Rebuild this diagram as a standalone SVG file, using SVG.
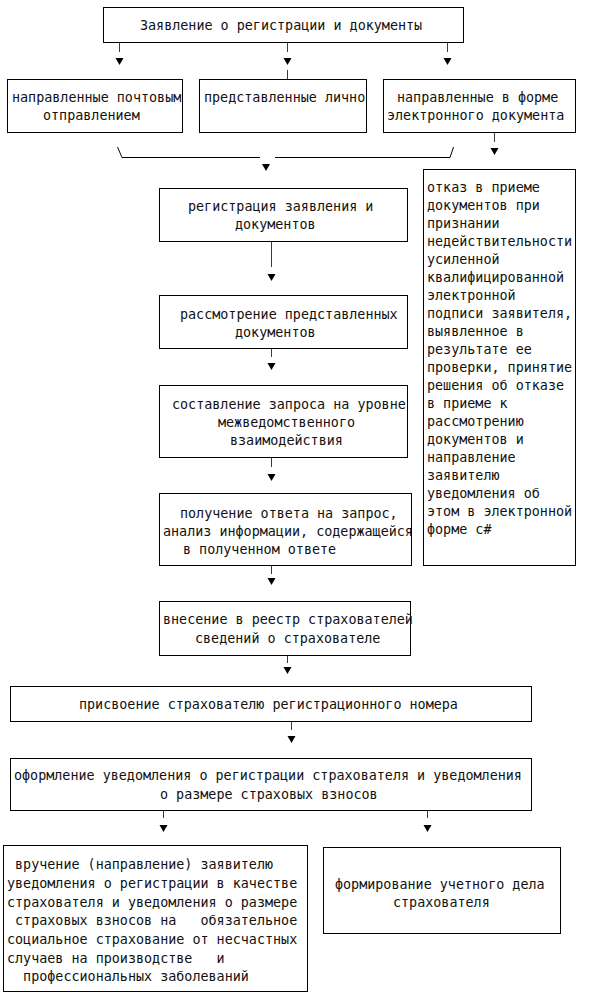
<svg xmlns="http://www.w3.org/2000/svg" width="592" height="997" viewBox="0 0 592 997">
<style>
.box{fill:#fff;stroke:#000;stroke-width:1}
text{font-family:"DejaVu Sans Mono","Liberation Mono",monospace;font-size:13.4px;fill:#111;white-space:pre}
.stem{stroke:#3a3a3a;stroke-width:1;fill:none}
.ln{stroke:#000;stroke-width:1;fill:none}
</style>
<defs>
<path id="tri" d="M-4,0 L4,0 L0,7 Z" fill="#000"/>
</defs>
<rect x="0" y="0" width="592" height="997" fill="#fff"/>
<g id="connectors">
<path class="stem" d="M119.5,43 V52 M287.5,43 V52 M287.5,70 V79 M447.5,43 V52"/>
<use href="#tri" x="119.5" y="58"/>
<use href="#tri" x="287.5" y="58"/>
<use href="#tri" x="447.5" y="58"/>
<path class="ln" d="M117.5,147 L122,157.5 H260 M275,157.5 H450 L453.5,147"/>
<use href="#tri" x="266" y="164"/>
<path class="stem" d="M494.5,133 V142"/>
<use href="#tri" x="494.5" y="148"/>
<path class="stem" d="M271.5,241 V267"/>
<use href="#tri" x="271.5" y="274"/>
<path class="stem" d="M271.5,348 V357"/>
<use href="#tri" x="271.5" y="363"/>
<path class="stem" d="M271.5,458 V467"/>
<use href="#tri" x="271.5" y="474"/>
<path class="stem" d="M271.5,566 V574"/>
<use href="#tri" x="271.5" y="578"/>
<path class="stem" d="M287.5,655 V663"/>
<use href="#tri" x="287.5" y="667"/>
<path class="stem" d="M291.5,721 V730"/>
<use href="#tri" x="291.5" y="736"/>
<path class="stem" d="M163.5,810 V818 M427.5,810 V818"/>
<use href="#tri" x="163.5" y="825"/>
<use href="#tri" x="427.5" y="825"/>
</g>
<g id="n-top">
<rect class="box" x="103.5" y="7.5" width="360" height="35"/>
<text x="140" y="30">Заявление о регистрации и документы</text>
</g>
<g id="n-post">
<rect class="box" x="7.5" y="79.5" width="175" height="53"/>
<text x="12" y="102">направленные почтовым</text>
<text x="43" y="120">отправлением</text>
</g>
<g id="n-personal">
<rect class="box" x="199.5" y="79.5" width="167" height="53"/>
<text x="204" y="102">представленные лично</text>
</g>
<g id="n-electronic">
<rect class="box" x="383.5" y="79.5" width="192" height="53"/>
<text x="397" y="102">направленные в форме</text>
<text x="387" y="120">электронного документа</text>
</g>
<g id="n-refusal">
<rect class="box" x="423.5" y="169.5" width="152" height="396"/>
<text x="427" y="192">отказ в приеме</text>
<text x="427" y="210">документов при</text>
<text x="427" y="228">признании</text>
<text x="427" y="246">недействительности</text>
<text x="427" y="264">усиленной</text>
<text x="427" y="282">квалифицированной</text>
<text x="427" y="300">электронной</text>
<text x="427" y="318">подписи заявителя,</text>
<text x="427" y="336">выявленное в</text>
<text x="427" y="354">результате ее</text>
<text x="427" y="372">проверки, принятие</text>
<text x="427" y="390">решения об отказе</text>
<text x="427" y="408">в приеме к</text>
<text x="427" y="426">рассмотрению</text>
<text x="427" y="444">документов и</text>
<text x="427" y="462">направление</text>
<text x="427" y="480">заявителю</text>
<text x="427" y="498">уведомления об</text>
<text x="427" y="516">этом в электронной</text>
<text x="427" y="534">форме с#</text>
</g>
<g id="n-registration">
<rect class="box" x="159.5" y="188.5" width="248" height="53"/>
<text x="188" y="211">регистрация заявления и</text>
<text x="235" y="229">документов</text>
</g>
<g id="n-review">
<rect class="box" x="159.5" y="295.5" width="248" height="53"/>
<text x="180" y="319">рассмотрение представленных</text>
<text x="235" y="337">документов</text>
</g>
<g id="n-request">
<rect class="box" x="159.5" y="385.5" width="248" height="72"/>
<text x="172" y="409">составление запроса на уровне</text>
<text x="218" y="427">межведомственного</text>
<text x="230" y="445">взаимодействия</text>
</g>
<g id="n-response">
<rect class="box" x="159.5" y="493.5" width="252" height="72"/>
<text x="180" y="518">получение ответа на запрос,</text>
<text x="163" y="536">анализ информации, содержащейся</text>
<text x="183" y="554">в полученном ответе</text>
</g>
<g id="n-register">
<rect class="box" x="159.5" y="601.5" width="251" height="54"/>
<text x="163" y="624">внесение в реестр страхователей</text>
<text x="195" y="643">сведений о страхователе</text>
</g>
<g id="n-number">
<rect class="box" x="10.5" y="686.5" width="521" height="35"/>
<text x="79" y="709">присвоение страхователю регистрационного номера</text>
</g>
<g id="n-notice">
<rect class="box" x="10.5" y="758.5" width="521" height="52"/>
<text x="14" y="780">оформление уведомления о регистрации страхователя и уведомления</text>
<text x="160" y="799">о размере страховых взносов</text>
</g>
<g id="n-delivery">
<rect class="box" x="3.5" y="845.5" width="304" height="146"/>
<text x="7" y="869"> вручение (направление) заявителю</text>
<text x="7" y="888">уведомления о регистрации в качестве</text>
<text x="7" y="907">страхователя и уведомления о размере</text>
<text x="7" y="925"> страховых взносов на   обязательное</text>
<text x="7" y="944">социальное страхование от несчастных</text>
<text x="7" y="963">случаев на производстве   и</text>
<text x="7" y="981">  профессиональных заболеваний</text>
</g>
<g id="n-file">
<rect class="box" x="323.5" y="847.5" width="237" height="86"/>
<text x="335" y="889">формирование учетного дела</text>
<text x="393" y="907">страхователя</text>
</g>
</svg>
